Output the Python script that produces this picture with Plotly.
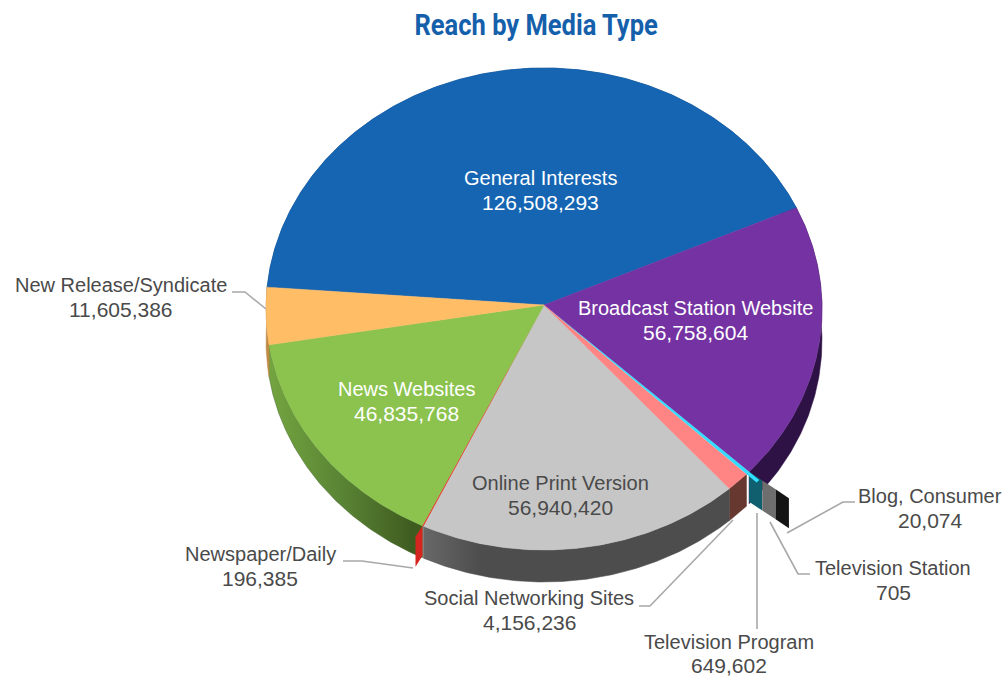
import math
import plotly.graph_objects as go

# Reach per media type, listed clockwise around the pie
CATEGORIES = [
    "General Interests", "Broadcast Station Website", "Blog, Consumer",
    "Television Station", "Television Program", "Social Networking Sites",
    "Online Print Version", "Newspaper/Daily", "News Websites",
    "New Release/Syndicate",
]
VALUES = [126508293, 56758604, 20074, 705, 649602, 4156236,
          56940420, 196385, 46835768, 11605386]

TOP_COLORS = ["#1565b3", "#7432a2", "#111111", "#777777", "#33ddff", "#ff8585",
              "#c6c6c6", "#e5301f", "#8bc34e", "#ffbd66"]
SIDE_COLORS = ["#0c3c70", "#2e1245", "#141414", "#6e6e6e", "#0f5f6e", "#66382f",
               "#4d4d4d", "#d42520", "#45662a", "#c08a45"]

# Projection of the tilted disc, in canvas pixels
CX, CY, RX, RY = 544.0, 309.0, 278.0, 241.0
APEX_Y = 305.0
DEPTH = 32.0
START_ANGLE = 275.2

TEXT_DARK = "#4a4a4a"
LEADER = "#a8a8a8"

# Label placement per category: centre x, name line y, value line y, text colour
LABEL_POS = {
    "General Interests": (540, 178, 202, "white"),
    "Broadcast Station Website": (695, 308, 332, "white"),
    "News Websites": (406, 389, 413, "white"),
    "Online Print Version": (560, 483, 507, TEXT_DARK),
    "New Release/Syndicate": (121, 285, 309, TEXT_DARK),
    "Newspaper/Daily": (260, 554, 578, TEXT_DARK),
    "Social Networking Sites": (529, 598, 622, TEXT_DARK),
    "Television Program": (729, 642, 665, TEXT_DARK),
    "Television Station": (893, 568, 592, TEXT_DARK),
    "Blog, Consumer": (930, 496, 520, TEXT_DARK),
}

LEADERS = [
    [(232, 292), (245, 292), (266, 309)],
    [(343, 561), (362, 561), (413, 568)],
    [(639, 606), (650, 606), (733, 520)],
    [(757, 513), (757, 629)],
    [(810, 574), (798, 574), (770, 522)],
    [(855, 502), (843, 502), (787, 533)],
]


def rim(theta, scale=1.0):
    a = math.radians(theta)
    return CX + scale * RX * math.sin(a), CY - scale * RY * math.cos(a)


def arc(a0, a1, scale=1.0):
    n = max(2, int(abs(a1 - a0) * 2) + 1)
    return [rim(a0 + (a1 - a0) * i / (n - 1), scale) for i in range(n)]


def add_poly(fig, pts, color=None, width=0.0, gradient=None):
    xs = [p[0] for p in pts] + [pts[0][0]]
    ys = [p[1] for p in pts] + [pts[0][1]]
    kwargs = dict(fillcolor=color) if gradient is None else dict(fillgradient=gradient)
    fig.add_trace(go.Scatter(
        x=xs, y=ys, mode="lines", fill="toself",
        line=dict(width=width, color=color or "rgba(0,0,0,0)"),
        hoverinfo="skip", showlegend=False, **kwargs,
    ))


def side_wall(a0, a1):
    top = arc(a0, a1)
    return top + [(x, y + DEPTH) for x, y in reversed(top)]


def cut_face(p, step, n0, n1):
    # A facet running outwards from a rim point, used for the very thin slices
    a = (p[0] + step[0] * n0, p[1] + step[1] * n0)
    b = (p[0] + step[0] * n1, p[1] + step[1] * n1)
    return [a, b, (b[0], b[1] + DEPTH - 2), (a[0], a[1] + DEPTH - 2)]


total = sum(VALUES)
angles = {}
cursor = START_ANGLE
for name, value in zip(CATEGORIES, VALUES):
    sweep = 360.0 * value / total
    angles[name] = (cursor, cursor + sweep)
    cursor += sweep

fig = go.Figure()

# Side walls of the large slices, painted first so the top face covers the rest
WALL_GRADIENTS = {
    "News Websites": dict(type="horizontal", start=268, stop=412,
                          colorscale=[[0, "#74a540"], [0.5, "#5a8535"], [1, "#3f5c20"]]),
    "Online Print Version": dict(type="horizontal", start=419, stop=480,
                                 colorscale=[[0, "#6a6a6a"], [1, "#4d4d4d"]]),
}
for i, name in enumerate(CATEGORIES):
    if name in ("Blog, Consumer", "Television Station", "Television Program", "Newspaper/Daily"):
        continue
    a0, a1 = angles[name]
    add_poly(fig, side_wall(a0, a1), SIDE_COLORS[i], 0.5, WALL_GRADIENTS.get(name))

# Cut faces of the thin slices
prog_start = angles["Television Program"][0]
fan_origin = rim(prog_start)
FAN_STEP = (13.3, 8.8)
for slot, name in enumerate(["Television Program", "Television Station", "Blog, Consumer"]):
    i = CATEGORIES.index(name)
    add_poly(fig, cut_face(fan_origin, FAN_STEP, slot, slot + 1), SIDE_COLORS[i])

news_end = angles["Newspaper/Daily"][1]
i = CATEGORIES.index("Newspaper/Daily")
add_poly(fig, cut_face(rim(news_end), (-7.0, 11.0), 0, 1), SIDE_COLORS[i])

# Top face, thin slices last so they stay visible
order = sorted(range(len(VALUES)), key=lambda k: -VALUES[k])
for i in order:
    name = CATEGORIES[i]
    a0, a1 = angles[name]
    big = VALUES[i] > 1000000
    scale = 1.05 if name == "Television Program" else 1.0
    add_poly(fig, [(CX, APEX_Y)] + arc(a0, a1, scale), TOP_COLORS[i], 0.5 if big else 0.0)

for pts in LEADERS:
    fig.add_trace(go.Scatter(
        x=[p[0] for p in pts], y=[p[1] for p in pts], mode="lines",
        line=dict(color=LEADER, width=1.6), hoverinfo="skip", showlegend=False,
    ))

LABEL_FONT = "Liberation Sans"
annotations = []
for name, value in zip(CATEGORIES, VALUES):
    x, y_name, y_value, color = LABEL_POS[name]
    annotations.append(dict(
        x=x, y=y_name, xref="x", yref="y", showarrow=False,
        xanchor="center", yanchor="middle", text=name,
        font=dict(family=LABEL_FONT, size=20, color=color),
    ))
    annotations.append(dict(
        x=x, y=y_value, xref="x", yref="y", showarrow=False,
        xanchor="center", yanchor="middle", text=f"{value:,}",
        font=dict(family=LABEL_FONT, size=21, color=color),
    ))
annotations.append(dict(
    x=535.5, y=24, xref="x", yref="y", showarrow=False, xanchor="center", yanchor="middle",
    text="<b>Reach by Media Type</b>",
    font=dict(family="Roboto", size=30, color="#1560ab"),
))

fig.update_layout(
    width=1005, height=677, margin=dict(l=0, r=0, t=0, b=0),
    paper_bgcolor="white", plot_bgcolor="white", showlegend=False,
    xaxis=dict(range=[0, 1005], visible=False, fixedrange=True),
    yaxis=dict(range=[677, 0], visible=False, fixedrange=True),
    annotations=annotations,
)

# Narrow the heading, since no condensed face is available
CONDENSE_TITLE = """
var notes = document.querySelectorAll('.annotation-text');
var title = notes[notes.length - 1];
title.style.transformBox = 'fill-box';
title.style.transformOrigin = 'center';
title.style.transform = 'scaleX(0.85)';
"""

fig.write_html("out.html", config={"displayModeBar": False}, post_script=CONDENSE_TITLE)
